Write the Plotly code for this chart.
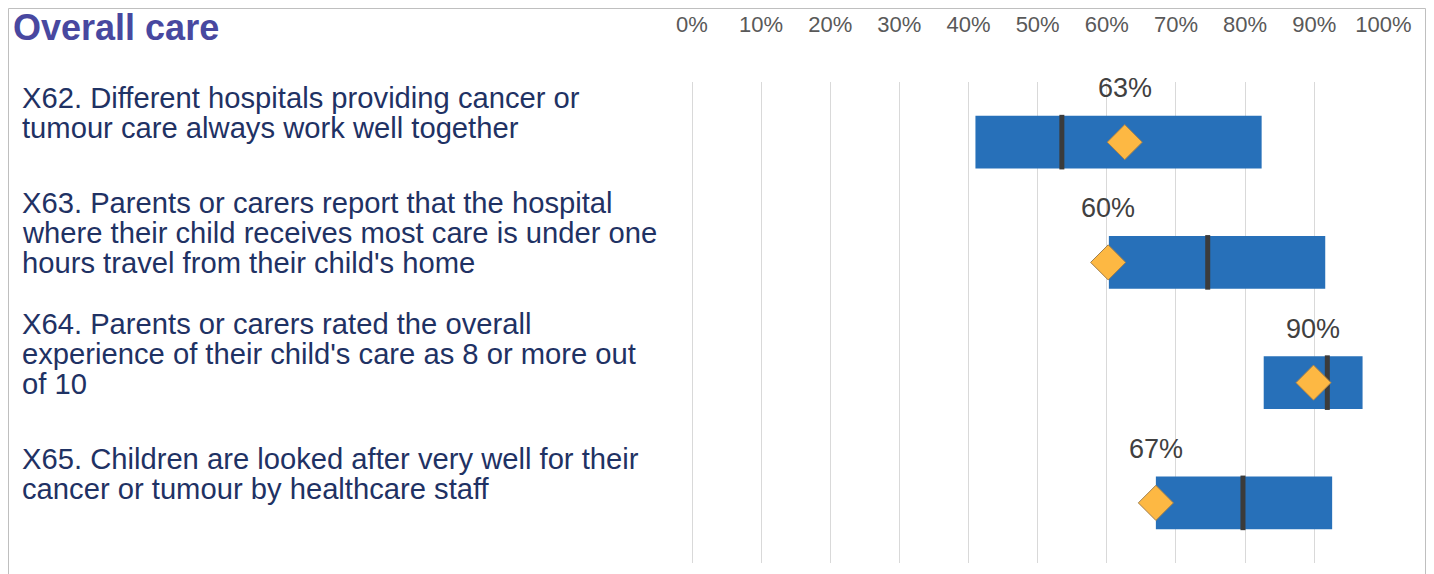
import plotly.graph_objects as go

# survey questions (top to bottom)
questions = ["X62", "X63", "X64", "X65"]
question_lines = [
    ["X62. Different hospitals providing cancer or",
     "tumour care always work well together"],
    ["X63. Parents or carers report that the hospital",
     "where their child receives most care is under one",
     "hours travel from their child's home"],
    ["X64. Parents or carers rated the overall",
     "experience of their child's care as 8 or more out",
     "of 10"],
    ["X65. Children are looked after very well for their",
     "cancer or tumour by healthcare staff"],
]

# range of trust results (%), national median and this trust's score
range_low = [41.0, 60.3, 82.7, 67.1]
range_high = [82.4, 91.6, 97.0, 92.6]
median = [53.5, 74.6, 91.9, 79.7]
score = [62.6, 60.2, 89.9, 67.1]
score_label = ["63%", "60%", "90%", "67%"]

tick_vals = [0, 10, 20, 30, 40, 50, 60, 70, 80, 90, 100]
tick_text = ["%d%%" % v for v in tick_vals]

# page has an 8px body margin, so the figure is a bit smaller than the window
W, H = 1426, 566
L, R, T, B = 684, 50, 74, 11
plot_w = W - L - R
plot_h = H - T - B

FONT = "Liberation Sans, Arial, sans-serif"


def px_x(px):
    return (px - L) / plot_w


def px_y(py):
    return 1 - (py - T) / plot_h


fig = go.Figure()

fig.add_trace(go.Bar(
    y=questions, x=[h - l for l, h in zip(range_low, range_high)], base=range_low,
    orientation="h", width=0.44, marker=dict(color="#2770B9", line=dict(width=0)),
    hoverinfo="none", showlegend=False,
))

fig.add_trace(go.Scatter(
    y=questions, x=median, mode="markers",
    marker=dict(symbol="line-ns", size=39, line=dict(color="#3B3B3B", width=5)),
    hoverinfo="none", showlegend=False,
))

fig.add_trace(go.Scatter(
    y=questions, x=score, mode="markers",
    marker=dict(symbol="diamond", size=27, color="#FDB843",
                line=dict(color="#A08050", width=1)),
    hoverinfo="none", showlegend=False,
))

annotations = []
for q, s, lab in zip(questions, score, score_label):
    annotations.append(dict(
        x=s, y=q, xref="x", yref="y", text=lab, showarrow=False,
        yshift=54, font=dict(family=FONT, size=27, color="#404040"),
    ))

# question text, one annotation per line to keep the tight line spacing
line_gap = 30
for q, lines in zip(questions, question_lines):
    n = len(lines)
    for i, line in enumerate(lines):
        annotations.append(dict(
            x=px_x(12), xref="paper", y=q, yref="y", text=line,
            showarrow=False, xanchor="left", yanchor="middle", align="left",
            yshift=29 - (i - (n - 1) / 2) * line_gap,
            font=dict(family=FONT, size=29.2, color="#1F3264"),
        ))

annotations.append(dict(
    x=px_x(3), xref="paper", y=px_y(20), yref="paper",
    text="<b>Overall care</b>", showarrow=False, xanchor="left", yanchor="middle",
    font=dict(family=FONT, size=36, color="#4848A0"),
))

# outer frame (no bottom edge)
x0, x1 = px_x(0.5), px_x(1417.5)
ytop, ybot = px_y(0.5), px_y(H + 5)
fig.add_shape(type="path", xref="paper", yref="paper",
              path=f"M {x0} {ybot} L {x0} {ytop} L {x1} {ytop} L {x1} {ybot}",
              line=dict(color="#BFBFBF", width=1))

fig.update_layout(
    width=W, height=H,
    margin=dict(l=L, r=R, t=T, b=B, autoexpand=False),
    plot_bgcolor="white", paper_bgcolor="white",
    annotations=annotations,
    xaxis=dict(
        range=[0, 100.1], side="top", tickvals=tick_vals, ticktext=tick_text,
        showgrid=True, gridcolor="#D9D9D9", gridwidth=1,
        zeroline=True, zerolinecolor="#D9D9D9", zerolinewidth=1,
        showline=False, ticks="", ticklabelstandoff=45, automargin=False,
        tickfont=dict(family=FONT, size=22, color="#595959"),
    ),
    yaxis=dict(
        type="category", range=[3.5, -0.5], showticklabels=False,
        showgrid=False, zeroline=False, showline=False, ticks="",
        automargin=False,
    ),
)

fig.write_html("out.html")
